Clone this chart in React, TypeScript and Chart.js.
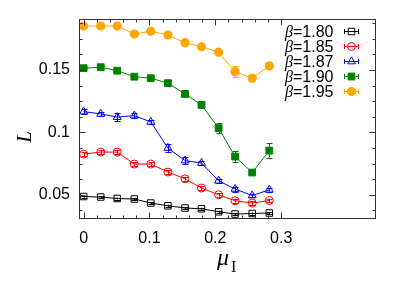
import React, { useEffect, useRef } from "react";
import { Chart, registerables } from "chart.js";

Chart.register(...registerables);

const muI = [0, 0.026, 0.051, 0.077, 0.102, 0.128, 0.154, 0.179, 0.205, 0.23, 0.256, 0.282];

const L180 = [0.0486, 0.0482, 0.047, 0.0466, 0.0434, 0.0412, 0.0394, 0.0388, 0.0364, 0.0346, 0.035, 0.0354];
const E180 = [0.0008, 0.0008, 0.0008, 0.0008, 0.0008, 0.0008, 0.0008, 0.0008, 0.0008, 0.0008, 0.0008, 0.0008];
const L185 = [0.0826, 0.0842, 0.0842, 0.0746, 0.0746, 0.0682, 0.0628, 0.0554, 0.05, 0.0452, 0.0434, 0.0454];
const E185 = [0.0015, 0.0015, 0.0015, 0.0015, 0.0015, 0.0015, 0.0015, 0.0015, 0.0015, 0.0015, 0.0015, 0.0015];
const L187 = [0.1166, 0.1148, 0.1122, 0.1134, 0.1084, 0.0874, 0.0774, 0.0754, 0.0612, 0.0546, 0.0494, 0.054];
const E187 = [0.002, 0.0015, 0.003, 0.002, 0.0015, 0.003, 0.003, 0.0015, 0.0015, 0.002, 0.0015, 0.0015];
const L190 = [0.1514, 0.1522, 0.1494, 0.1446, 0.1434, 0.1394, 0.1308, 0.122, 0.1034, 0.0806, 0.0678, 0.0854];
const E190 = [0.001, 0.001, 0.001, 0.001, 0.001, 0.0015, 0.001, 0.0015, 0.004, 0.0045, 0.0015, 0.0057];
const L195 = [0.1852, 0.1852, 0.1852, 0.1788, 0.181, 0.178, 0.1718, 0.1686, 0.1642, 0.1486, 0.1434, 0.1532];
const E195 = [0.001, 0.001, 0.001, 0.001, 0.001, 0.001, 0.001, 0.001, 0.001, 0.0046, 0.001, 0.001];

const betaLabels = ["1.80", "1.85", "1.87", "1.90", "1.95"];
const seriesValues = [L180, L185, L187, L190, L195];
const seriesErrors = [E180, E185, E187, E190, E195];
const seriesColors = ["#000000", "#ff0000", "#0000ff", "#008000", "#ffa500"];
const seriesShapes = ["rect", "circle", "triangle", "rect", "circle"];
const seriesFilled = [false, false, false, true, true];
const seriesRadius = [4.6, 4.0, 4.6, 4.8, 4.1];

const xMajorTicks = [0, 0.1, 0.2, 0.3];
const yMajorTicks = [0.05, 0.1, 0.15];

function drawMarker(ctx: CanvasRenderingContext2D, shape: string, x: number, y: number, r: number, color: string, filled: boolean) {
  ctx.save();
  ctx.beginPath();
  if (shape === "rect") {
    const s = Math.SQRT1_2 * r;
    ctx.rect(x - s, y - s, 2 * s, 2 * s);
  } else if (shape === "triangle") {
    ctx.moveTo(x, y - r);
    ctx.lineTo(x + r * 0.866, y + r * 0.5);
    ctx.lineTo(x - r * 0.866, y + r * 0.5);
    ctx.closePath();
  } else {
    ctx.arc(x, y, r, 0, Math.PI * 2);
  }
  ctx.lineWidth = 1;
  ctx.strokeStyle = color;
  if (filled) {
    ctx.fillStyle = color;
    ctx.fill();
  }
  ctx.stroke();
  ctx.restore();
}

const decorPlugin = {
  id: "decor",
  beforeDatasetsDraw(chart: any) {
    const ctx: CanvasRenderingContext2D = chart.ctx;
    const xs = chart.scales.x;
    const ys = chart.scales.y;
    ctx.save();
    ctx.lineWidth = 1;
    seriesValues.forEach((vals, si) => {
      ctx.strokeStyle = seriesColors[si];
      vals.forEach((v, i) => {
        const e = seriesErrors[si][i];
        const px = Math.round(xs.getPixelForValue(muI[i])) + 0.5;
        const y1 = ys.getPixelForValue(v - e);
        const y2 = ys.getPixelForValue(v + e);
        ctx.beginPath();
        ctx.moveTo(px, y1);
        ctx.lineTo(px, y2);
        ctx.moveTo(px - 3, Math.round(y1) + 0.5);
        ctx.lineTo(px + 3, Math.round(y1) + 0.5);
        ctx.moveTo(px - 3, Math.round(y2) + 0.5);
        ctx.lineTo(px + 3, Math.round(y2) + 0.5);
        ctx.stroke();
      });
    });
    ctx.restore();
  },
  afterDraw(chart: any) {
    const ctx: CanvasRenderingContext2D = chart.ctx;
    const a = chart.chartArea;
    const xs = chart.scales.x;
    const ys = chart.scales.y;
    ctx.save();
    ctx.strokeStyle = "#333333";
    ctx.lineWidth = 1;
    const L = Math.round(a.left) + 0.5;
    const R = Math.round(a.right) - 0.5;
    const T = Math.round(a.top) + 0.5;
    const B = Math.round(a.bottom) - 0.5;
    ctx.strokeRect(L, T, R - L, B - T);
    ctx.beginPath();
    for (let k = 0; k <= 15; k++) {
      const v = k * 0.02;
      const px = Math.round(xs.getPixelForValue(v)) + 0.5;
      const major = xMajorTicks.some((m) => Math.abs(m - v) < 1e-9);
      const len = major ? 6 : 3;
      ctx.moveTo(px, B);
      ctx.lineTo(px, B - len);
      ctx.moveTo(px, T);
      ctx.lineTo(px, T + len);
    }
    for (let k = 0; k <= 16; k++) {
      const v = 0.0375 + k * 0.0125;
      if (v > ys.max) break;
      const py = Math.round(ys.getPixelForValue(v)) + 0.5;
      const major = yMajorTicks.some((m) => Math.abs(m - v) < 1e-9);
      const len = major ? 6 : 3;
      ctx.moveTo(L, py);
      ctx.lineTo(L + len, py);
      ctx.moveTo(R, py);
      ctx.lineTo(R - len, py);
    }
    ctx.stroke();

    ctx.fillStyle = "#000";
    ctx.textBaseline = "alphabetic";
    ctx.font = "italic 24px 'Liberation Serif'";
    ctx.textAlign = "left";
    ctx.fillText("\u03bc", 217, 265);
    ctx.font = "16px 'Liberation Serif'";
    ctx.fillText("I", 231, 272);

    ctx.save();
    ctx.translate(31, 137);
    ctx.rotate(-Math.PI / 2);
    ctx.font = "italic 21px 'Liberation Serif'";
    ctx.textAlign = "center";
    ctx.fillText("L", 0, 0);
    ctx.restore();

    betaLabels.forEach((b, i) => {
      const cy = 31 + i * 15;
      ctx.fillStyle = "#000";
      ctx.textAlign = "left";
      ctx.textBaseline = "alphabetic";
      ctx.font = "italic 16px 'Liberation Serif'";
      ctx.fillText("\u03b2", 285, cy + 6);
      const bw = ctx.measureText("\u03b2").width;
      ctx.font = "16px 'Liberation Sans'";
      ctx.fillText("=" + b, 285 + bw, cy + 6);
      const c = seriesColors[i];
      ctx.strokeStyle = c;
      ctx.beginPath();
      ctx.moveTo(344, cy + 0.5);
      ctx.lineTo(359, cy + 0.5);
      ctx.moveTo(344.5, cy - 2);
      ctx.lineTo(344.5, cy + 3);
      ctx.moveTo(358.5, cy - 2);
      ctx.lineTo(358.5, cy + 3);
      ctx.stroke();
      drawMarker(ctx, seriesShapes[i], 351.5, cy + 0.5, seriesRadius[i], c, seriesFilled[i]);
    });
    ctx.restore();
  },
};

function fmt(v: number) {
  return String(Math.round(v * 1000) / 1000);
}

export default function App() {
  const ref = useRef<HTMLCanvasElement | null>(null);
  useEffect(() => {
    if (!ref.current) return;
    const datasets = seriesValues.map((vals, si) => ({
      label: "\u03b2=" + betaLabels[si],
      data: vals.map((v, i) => ({ x: muI[i], y: v })),
      borderColor: seriesColors[si],
      backgroundColor: seriesColors[si],
      borderWidth: 1,
      pointStyle: seriesShapes[si],
      pointRadius: seriesRadius[si],
      pointBorderWidth: 1,
      pointBorderColor: seriesColors[si],
      pointBackgroundColor: seriesFilled[si] ? seriesColors[si] : "rgba(0,0,0,0)",
      fill: false,
      tension: 0,
    }));
    const chart = new Chart(ref.current, {
      type: "line",
      data: { datasets },
      plugins: [decorPlugin],
      options: {
        responsive: false,
        animation: false,
        events: [],
        layout: { padding: { top: 19, right: 31, left: 0, bottom: 0 } },
        plugins: { legend: { display: false }, tooltip: { enabled: false } },
        scales: {
          x: {
            type: "linear",
            min: -0.007,
            max: 0.444,
            afterFit: (s: any) => {
              s.height = 66;
            },
            grid: { display: false, drawTicks: false },
            border: { display: false },
            ticks: {
              stepSize: 0.1,
              includeBounds: false,
              autoSkip: false,
              maxRotation: 0,
              padding: 10,
              color: "#000",
              font: { family: "'Liberation Sans'", size: 16 },
              callback: (v: any) => (Number(v) <= 0.3001 ? fmt(Number(v)) : ""),
            },
          },
          y: {
            type: "linear",
            min: 0.0306,
            max: 0.1908,
            afterFit: (s: any) => {
              s.width = 79;
            },
            grid: { display: false, drawTicks: false },
            border: { display: false },
            ticks: {
              stepSize: 0.05,
              includeBounds: false,
              autoSkip: false,
              padding: 9,
              color: "#000",
              font: { family: "'Liberation Sans'", size: 16 },
              callback: (v: any) => fmt(Number(v)),
            },
          },
        },
      },
    } as any);
    return () => chart.destroy();
  }, []);
  return (
    <div style={{ position: "fixed", left: 0, top: 0, width: 407, height: 285, background: "#fff" }}>
      <canvas ref={ref} width={407} height={285} style={{ width: 407, height: 285, display: "block" }} />
    </div>
  );
}
